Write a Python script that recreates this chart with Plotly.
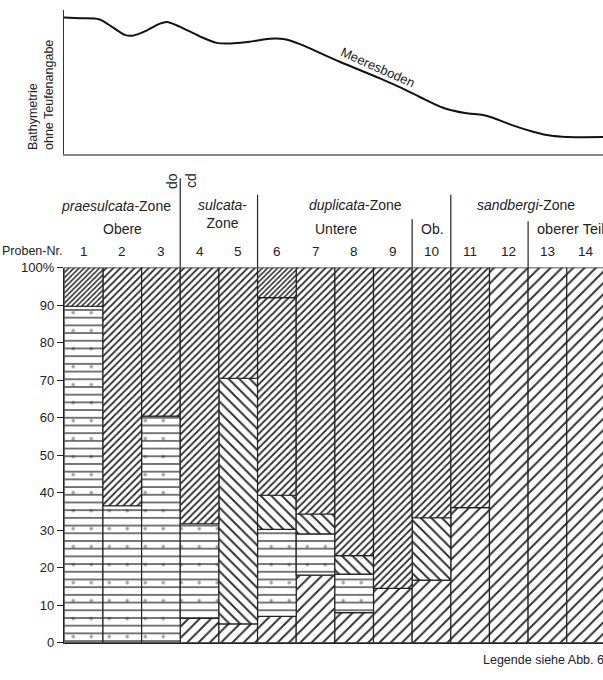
import plotly.graph_objects as go

# ---------------- data ----------------
samples = list(range(1, 15))
sample_labels = [str(s) for s in samples]

# thickness (%) of each lithology in each sample, stacked bottom -> top
coarse_hatch = [None, None, None, 6.5, 5, 7, 18, 8, 14.5, 16.7, 36, 100, 100, 100]
lined_dotted = [89.7, 36.5, 60.4, 25.2, None, 23.2, 11, 10.3, None, None, None, None, None, None]
back_hatch = [None, None, None, None, 65.5, 9.1, 5.3, 4.9, None, 16.6, None, None, None, None]
medium_hatch = [None, 63.5, 39.6, 68.3, 29.5, 52.7, 65.7, 76.8, 85.5, 66.7, 64, None, None, None]
dense_hatch = [10.3, None, None, None, None, 8, None, None, None, None, None, None, None, None]

y_ticks = [0, 10, 20, 30, 40, 50, 60, 70, 80, 90, 100]
y_ticklabels = ["0", "10", "20", "30", "40", "50", "60", "70", "80", "90", "100%"]

# bathymetric profile (position in sample units, relative height)
bathy_x = [0.49, 0.91, 1.42, 1.73, 2.07, 2.28, 2.59, 2.98, 3.16, 3.49, 4.01, 4.45, 4.79,
           5.30, 5.82, 6.21, 6.60, 7.63, 8.67, 9.18, 9.70, 10.30, 10.87, 11.33, 11.64,
           12.03, 12.63, 13.07, 13.51, 14.44]
bathy_h = [139.3, 138.5, 137.3, 130, 121.5, 120.7, 125, 133, 134.7, 130, 120, 113.3, 112.7,
           114.5, 117.5, 117, 112, 94, 77, 68, 58, 47, 41.5, 39.5, 36,
           30, 22.5, 18.5, 17, 17]

# ---------------- figure ----------------
W, H = 603, 680
FONT = "Liberation Sans, Arial, sans-serif"
INK = "#222222"


def px_y(p):
    return 1 - p / H


fig = go.Figure()

layers = [
    (coarse_hatch, dict(shape="/", size=8, solidity=0.24)),
    (lined_dotted, dict(shape="-", size=7.7, solidity=0.17)),
    (back_hatch, dict(shape="\\", size=7.5, solidity=0.26)),
    (medium_hatch, dict(shape="/", size=5, solidity=0.36)),
    (dense_hatch, dict(shape="/", size=3.6, solidity=0.45)),
]

cum = [0.0] * len(samples)
for vals, pat in layers:
    base = list(cum)
    fig.add_trace(go.Bar(
        x=samples, y=vals, base=base, width=1,
        marker=dict(color="white", line=dict(color=INK, width=1.2),
                    pattern=dict(fgcolor="#303030", bgcolor="white", fillmode="replace", **pat)),
        showlegend=False, hoverinfo="skip", xaxis="x", yaxis="y",
    ))
    if vals is lined_dotted:
        fig.add_trace(go.Bar(
            x=samples, y=vals, base=base, width=1,
            marker=dict(color="rgba(0,0,0,0)", line=dict(width=0),
                        pattern=dict(shape=".", size=18, solidity=0.03, fgcolor="#303030",
                                     bgcolor="rgba(0,0,0,0)", fillmode="overlay")),
            showlegend=False, hoverinfo="skip", xaxis="x", yaxis="y",
        ))
    cum = [c + (v or 0) for c, v in zip(cum, vals)]

# bathymetry line
fig.add_trace(go.Scatter(
    x=bathy_x, y=bathy_h, mode="lines", line=dict(color="#111111", width=2, shape="spline", smoothing=0.8),
    showlegend=False, hoverinfo="skip", xaxis="x2", yaxis="y2",
))

x0 = 64.3 / W
xrange = [0.5, 0.5 + (W - 64.3) / 38.65]

fig.update_layout(
    width=W, height=H, margin=dict(l=0, r=0, t=0, b=0),
    paper_bgcolor="white", plot_bgcolor="white",
    barmode="overlay",
    font=dict(family=FONT, size=13, color=INK),
    xaxis=dict(domain=[x0, 1], range=xrange, showgrid=False, zeroline=False,
               showticklabels=False, ticks="", showline=True, linecolor=INK, linewidth=1.5),
    yaxis=dict(domain=[px_y(650), px_y(266.5)], range=[0, 100], showgrid=False, zeroline=False,
               tickmode="array", tickvals=y_ticks, ticktext=y_ticklabels,
               ticks="outside", ticklen=6, tickwidth=1.2, tickcolor=INK,
               showline=True, linecolor=INK, linewidth=1.5,
               tickfont=dict(size=13, color=INK)),
    xaxis2=dict(domain=[64 / W, 1], range=xrange, showgrid=False, zeroline=False,
                showticklabels=False, ticks="", showline=True, linecolor="#888888", linewidth=2,
                anchor="y2"),
    yaxis2=dict(domain=[px_y(150), px_y(3)], range=[0, 147], showgrid=False, zeroline=False,
                showticklabels=False, ticks="", showline=True, linecolor="#333333", linewidth=1.5,
                anchor="x2"),
)

ann = []


def add_text(text, xpx, ypx, size=14, xanchor="center", angle=0, align="center"):
    ann.append(dict(text=text, x=xpx / W, y=px_y(ypx), xref="paper", yref="paper",
                    xanchor=xanchor, yanchor="middle", showarrow=False, textangle=angle,
                    align=align, font=dict(size=size, family=FONT, color=INK)))


add_text("<i>praesulcata</i>-Zone", 116, 203)
add_text("<i>sulcata</i>-<br>Zone", 222, 212)
add_text("Obere", 122, 227)
add_text("<i>duplicata</i>-Zone", 355, 202)
add_text("Untere", 336, 227)
add_text("Ob.", 432, 227)
add_text("<i>sandbergi</i>-Zone", 526, 202)
add_text("oberer Teil", 535, 227, size=14.5, xanchor="left")
add_text("Proben-Nr.", 0, 250, size=12.5, xanchor="left")
add_text("do", 172, 178, size=14, angle=-90)
add_text("cd", 191, 178, size=14, angle=-90)
add_text("Legende siehe Abb. 6", 481, 668, size=12.5, xanchor="left")
add_text("Meeresboden", 378, 62, size=13, angle=24)
add_text("Bathymetrie<br>ohne Teufenangabe", 41, 90, size=12.5, angle=-90, align="left")

for s, lab in zip(samples, sample_labels):
    ann.append(dict(text=lab, x=s, y=px_y(250), xref="x", yref="paper", xanchor="center",
                    yanchor="middle", showarrow=False, font=dict(size=13.5, family=FONT, color=INK)))

fig.update_layout(annotations=ann)

# header separator lines (zone boundaries)
seps = [(3.5, 175), (5.5, 192), (9.5, 217), (10.5, 192), (12.5, 219)]
shapes = []
for xs, ytop in seps:
    shapes.append(dict(type="line", xref="x", yref="paper", x0=xs, x1=xs,
                       y0=px_y(266.5), y1=px_y(ytop), line=dict(color=INK, width=1.2)))
fig.update_layout(shapes=shapes)

fig.write_html("out.html", config={"displayModeBar": False, "staticPlot": True},
               post_script="document.body.style.margin='0';document.body.style.overflow='hidden';")
